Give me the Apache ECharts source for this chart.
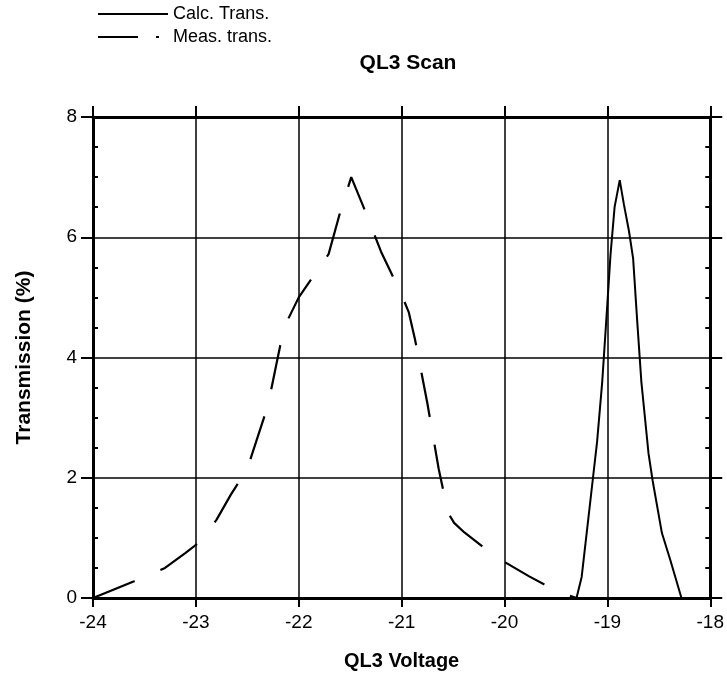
<!DOCTYPE html>
<html>
<head>
<meta charset="utf-8">
<script src="https://cdn.jsdelivr.net/npm/echarts@6/dist/echarts.min.js"></script>
<style>
html,body{margin:0;padding:0;background:#fff;}
#chart{width:727px;height:684px;}
</style>
</head>
<body>
<div id="chart"></div>
<script>
// Calculated transmission (solid line)
var calcX = [-19.30, -19.25, -19.20, -19.14, -19.10, -19.05, -19.00, -18.97, -18.93, -18.88, -18.84, -18.79, -18.75, -18.71, -18.67, -18.60, -18.56, -18.47, -18.39, -18.28];
var calcY = [0, 0.35, 1.1, 2.0, 2.6, 3.6, 4.9, 5.7, 6.5, 6.95, 6.55, 6.1, 5.65, 4.6, 3.6, 2.4, 1.95, 1.08, 0.64, 0];
// Measured transmission (dashed line)
var measX = [-24.0, -23.6, -23.3, -23.1, -22.95, -22.8, -22.66, -22.5, -22.3, -22.18, -22.1, -22.0, -21.88, -21.71, -21.6, -21.49, -21.37, -21.2, -21.1, -20.99, -20.93, -20.87, -20.75, -20.64, -20.55, -20.49, -20.39, -20.14, -20.0, -19.76, -19.5, -19.3];
var measY = [0, 0.28, 0.5, 0.75, 0.95, 1.3, 1.72, 2.15, 3.2, 4.2, 4.65, 5.0, 5.3, 5.72, 6.4, 7.0, 6.5, 5.76, 5.4, 5.0, 4.75, 4.3, 3.24, 2.15, 1.42, 1.25, 1.09, 0.76, 0.6, 0.36, 0.12, 0];
var xTicks = [-24, -23, -22, -21, -20, -19, -18];
var yTicks = [0, 2, 4, 6, 8];
var seriesNames = ['Calc. Trans.', 'Meas. trans.'];

function pairs(xs, ys) { return xs.map(function (x, i) { return [x, ys[i]]; }); }

var FONT = 'Liberation Sans';
var chart = echarts.init(document.getElementById('chart'), null, {renderer: 'canvas'});
var commonX = {
  type: 'value', min: xTicks[0], max: xTicks[xTicks.length - 1], interval: 1
};
var commonY = {
  type: 'value', min: yTicks[0], max: yTicks[yTicks.length - 1], interval: 2
};
chart.setOption({
  animation: false,
  backgroundColor: '#fff',
  title: {
    text: 'QL3 Scan', left: 403, top: 48, textAlign: 'center',
    textStyle: {fontFamily: FONT, fontSize: 21, fontWeight: 'bold', color: '#000'}
  },
  legend: {
    data: [
      {name: seriesNames[0]},
      {name: seriesNames[1], lineStyle: {type: [40, 18, 3, 100]}}
    ],
    orient: 'vertical', left: 97, top: 5, padding: 0,
    itemWidth: 70, itemHeight: 14, itemGap: 5,
    itemStyle: {opacity: 0},
    textStyle: {fontFamily: FONT, fontSize: 18, color: '#000'}
  },
  grid: {left: 93, right: 14, top: 117, bottom: 86},
  xAxis: [
    Object.assign({}, commonX, {
      position: 'bottom',
      name: 'QL3 Voltage', nameLocation: 'middle', nameGap: 53,
      nameTextStyle: {fontFamily: FONT, fontSize: 20, fontWeight: 'bold', color: '#000'},
      axisLine: {onZero: false, lineStyle: {color: '#000', width: 3}},
      axisTick: {show: true, length: 9, lineStyle: {color: '#000', width: 2}},
      axisLabel: {fontFamily: FONT, fontSize: 19, color: '#000', margin: 15,
        formatter: function (v) { return String(v); }},
      splitLine: {show: true, lineStyle: {color: '#000', width: 1.5}}
    }),
    Object.assign({}, commonX, {
      position: 'top',
      axisLine: {onZero: false, lineStyle: {color: '#000', width: 3}},
      axisTick: {show: true, length: 11, lineStyle: {color: '#000', width: 2}},
      axisLabel: {show: false},
      splitLine: {show: false}
    })
  ],
  yAxis: [
    Object.assign({}, commonY, {
      position: 'left',
      name: 'Transmission (%)', nameLocation: 'middle', nameGap: 58,
      nameTextStyle: {fontFamily: FONT, fontSize: 21, fontWeight: 'bold', color: '#000'},
      axisLine: {show: true, onZero: false, lineStyle: {color: '#000', width: 3}},
      axisTick: {show: true, length: 12, lineStyle: {color: '#000', width: 2}},
      minorTick: {show: true, splitNumber: 4, length: -5, lineStyle: {color: '#000', width: 2}},
      axisLabel: {fontFamily: FONT, fontSize: 19, color: '#000', margin: 16},
      splitLine: {show: true, lineStyle: {color: '#000', width: 1.5}}
    }),
    Object.assign({}, commonY, {
      position: 'right',
      axisLine: {show: true, onZero: false, lineStyle: {color: '#000', width: 3}},
      axisTick: {show: true, length: 12, lineStyle: {color: '#000', width: 2}},
      minorTick: {show: true, splitNumber: 4, length: -5, lineStyle: {color: '#000', width: 2}},
      axisLabel: {show: false},
      splitLine: {show: false}
    })
  ],
  series: [
    {
      name: seriesNames[0], type: 'line', data: pairs(calcX, calcY),
      showSymbol: false, symbol: 'none', smooth: false,
      lineStyle: {color: '#000', width: 2, type: 'solid'},
      itemStyle: {color: '#000'}, z: 5
    },
    {
      name: seriesNames[1], type: 'line', data: pairs(measX, measY),
      showSymbol: false, symbol: 'none', smooth: false,
      lineStyle: {color: '#000', width: 2.2, type: [45, 28]},
      itemStyle: {color: '#000'}, z: 5
    }
  ]
});
</script>
</body>
</html>
